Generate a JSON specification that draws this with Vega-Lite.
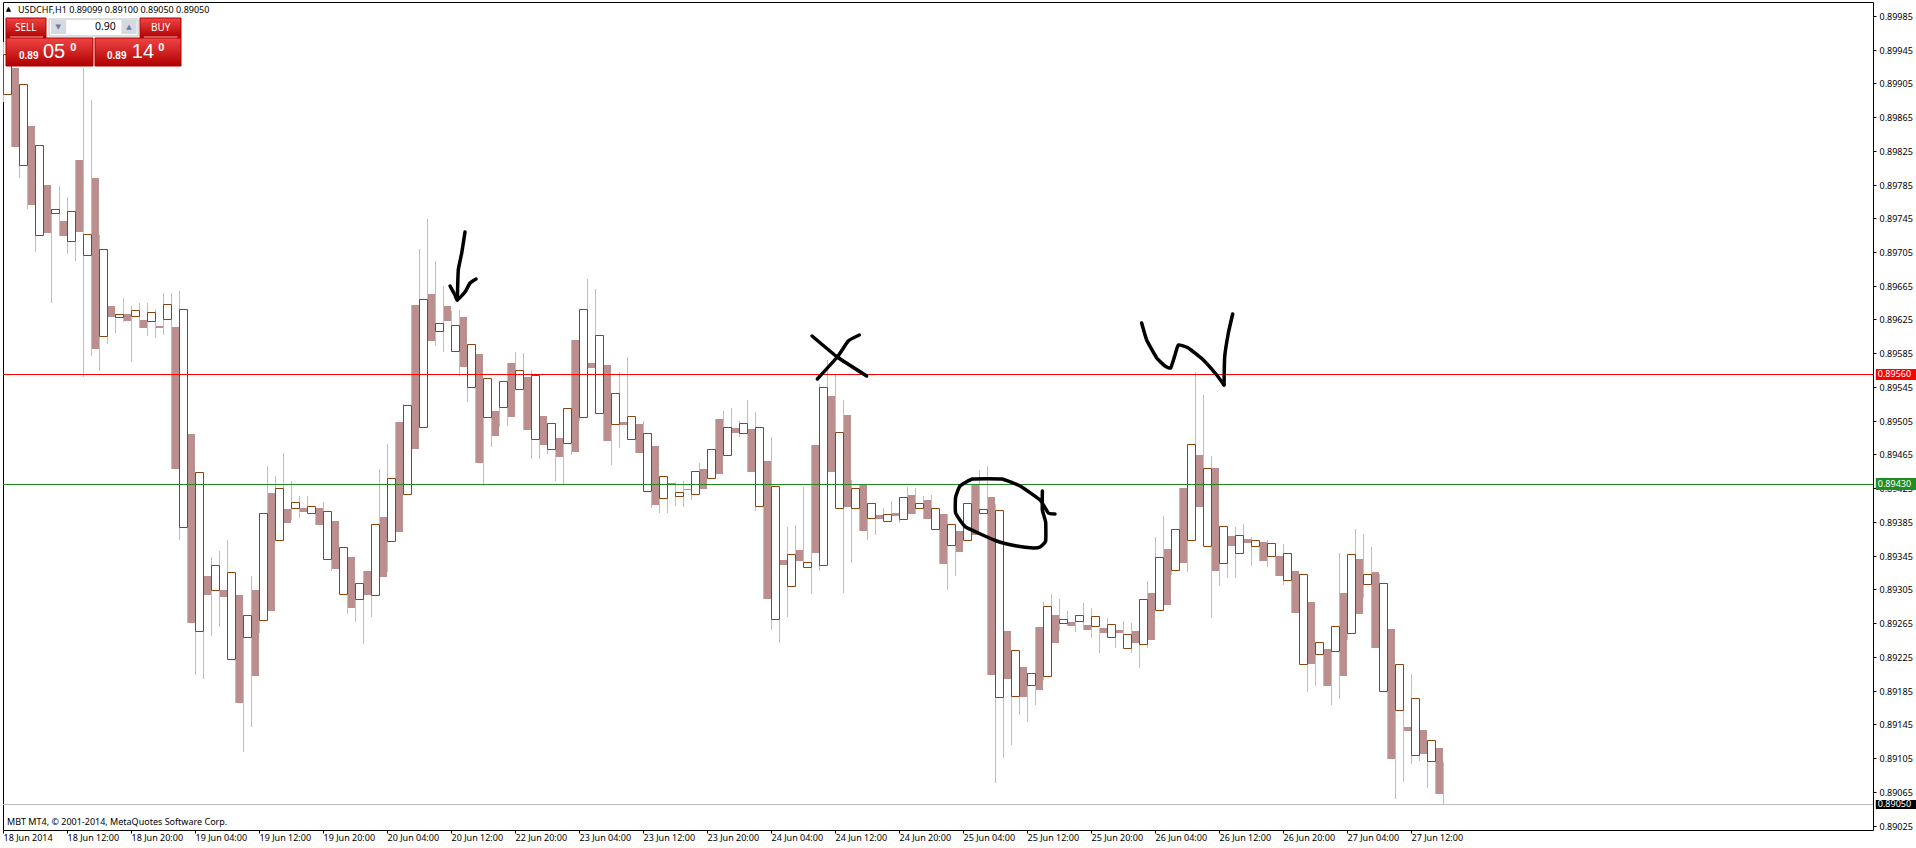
{
"$schema":"https://vega.github.io/schema/vega-lite/v6.json",
"autosize":"none","width":1870,"height":828,
"padding":{"left":3,"top":2,"right":43,"bottom":18},
"background":"#ffffff",
"config":{"view":{"stroke":"#000000","strokeWidth":1},"font":"Noto Sans","axis":{"labelOverlap":false,"labelSeparation":0}},
"datasets":{
"bars":[
{"i":0,"open":0.89892,"high":0.89954,"low":0.89883,"close":0.8994},
{"i":1,"open":0.89923,"high":0.89935,"low":0.8983,"close":0.8983},
{"i":2,"open":0.89808,"high":0.89904,"low":0.89793,"close":0.89904},
{"i":3,"open":0.89854,"high":0.89854,"low":0.89756,"close":0.89761},
{"i":4,"open":0.89725,"high":0.89832,"low":0.89705,"close":0.89832},
{"i":5,"open":0.89785,"high":0.89785,"low":0.89728,"close":0.89728},
{"i":6,"open":0.89751,"high":0.89756,"low":0.89644,"close":0.89756},
{"i":7,"open":0.89742,"high":0.89783,"low":0.89724,"close":0.89724},
{"i":8,"open":0.89718,"high":0.8977,"low":0.89703,"close":0.89754},
{"i":9,"open":0.89814,"high":0.89814,"low":0.89694,"close":0.89729},
{"i":10,"open":0.89702,"high":0.89923,"low":0.89557,"close":0.89726},
{"i":11,"open":0.89793,"high":0.89885,"low":0.89582,"close":0.8959},
{"i":12,"open":0.89605,"high":0.89725,"low":0.89564,"close":0.89708},
{"i":13,"open":0.89641,"high":0.89641,"low":0.89596,"close":0.89628},
{"i":14,"open":0.89628,"high":0.89631,"low":0.89609,"close":0.89631},
{"i":15,"open":0.89632,"high":0.89651,"low":0.89622,"close":0.89623},
{"i":16,"open":0.89629,"high":0.89641,"low":0.89574,"close":0.89636},
{"i":17,"open":0.89624,"high":0.89644,"low":0.89615,"close":0.89615},
{"i":18,"open":0.89623,"high":0.89645,"low":0.89605,"close":0.89634},
{"i":19,"open":0.89617,"high":0.89638,"low":0.89603,"close":0.89615},
{"i":20,"open":0.89625,"high":0.89656,"low":0.89606,"close":0.89643},
{"i":21,"open":0.89616,"high":0.89656,"low":0.89448,"close":0.89448},
{"i":22,"open":0.89379,"high":0.89659,"low":0.89363,"close":0.89638},
{"i":23,"open":0.89489,"high":0.89489,"low":0.89265,"close":0.89265},
{"i":24,"open":0.89256,"high":0.89444,"low":0.89204,"close":0.89444},
{"i":25,"open":0.89321,"high":0.89321,"low":0.89199,"close":0.89298},
{"i":26,"open":0.89304,"high":0.89343,"low":0.8925,"close":0.89334},
{"i":27,"open":0.89304,"high":0.89351,"low":0.8926,"close":0.89296},
{"i":28,"open":0.89222,"high":0.89364,"low":0.89222,"close":0.89326},
{"i":29,"open":0.89298,"high":0.89298,"low":0.8917,"close":0.8917},
{"i":30,"open":0.89248,"high":0.89275,"low":0.89112,"close":0.89275},
{"i":31,"open":0.89304,"high":0.89321,"low":0.89142,"close":0.89202},
{"i":32,"open":0.89269,"high":0.89396,"low":0.89253,"close":0.89396},
{"i":33,"open":0.89419,"high":0.89451,"low":0.89279,"close":0.89279},
{"i":34,"open":0.89364,"high":0.89439,"low":0.89364,"close":0.89425},
{"i":35,"open":0.894,"high":0.89467,"low":0.89384,"close":0.89384},
{"i":36,"open":0.89402,"high":0.89434,"low":0.89387,"close":0.89409},
{"i":37,"open":0.89402,"high":0.89416,"low":0.8939,"close":0.89397},
{"i":38,"open":0.89395,"high":0.89416,"low":0.89395,"close":0.89404},
{"i":39,"open":0.89402,"high":0.89402,"low":0.89381,"close":0.89381},
{"i":40,"open":0.89341,"high":0.89409,"low":0.89341,"close":0.89398},
{"i":41,"open":0.89386,"high":0.89386,"low":0.89327,"close":0.89329},
{"i":42,"open":0.89299,"high":0.89355,"low":0.89299,"close":0.89355},
{"i":43,"open":0.89343,"high":0.89343,"low":0.89276,"close":0.89283},
{"i":44,"open":0.89293,"high":0.89313,"low":0.89266,"close":0.89313},
{"i":45,"open":0.89327,"high":0.89327,"low":0.8924,"close":0.89298},
{"i":46,"open":0.89298,"high":0.89383,"low":0.89272,"close":0.89383},
{"i":47,"open":0.89391,"high":0.89448,"low":0.8932,"close":0.8932},
{"i":48,"open":0.89362,"high":0.89477,"low":0.89326,"close":0.89437},
{"i":49,"open":0.89503,"high":0.89503,"low":0.89373,"close":0.89373},
{"i":50,"open":0.89418,"high":0.89525,"low":0.89418,"close":0.89523},
{"i":51,"open":0.89642,"high":0.89642,"low":0.89472,"close":0.89472},
{"i":52,"open":0.89497,"high":0.89709,"low":0.89497,"close":0.89649},
{"i":53,"open":0.89655,"high":0.89744,"low":0.89593,"close":0.896},
{"i":54,"open":0.89611,"high":0.89694,"low":0.89593,"close":0.89621},
{"i":55,"open":0.89641,"high":0.89665,"low":0.89586,"close":0.89623},
{"i":56,"open":0.89588,"high":0.89635,"low":0.89588,"close":0.89618},
{"i":57,"open":0.89628,"high":0.89636,"low":0.89558,"close":0.89569},
{"i":58,"open":0.89545,"high":0.89596,"low":0.89527,"close":0.89596},
{"i":59,"open":0.89584,"high":0.89584,"low":0.89455,"close":0.89455},
{"i":60,"open":0.89509,"high":0.89556,"low":0.89427,"close":0.89556},
{"i":61,"open":0.89517,"high":0.89517,"low":0.89474,"close":0.89487},
{"i":62,"open":0.89521,"high":0.89552,"low":0.89498,"close":0.89552},
{"i":63,"open":0.89573,"high":0.89573,"low":0.89499,"close":0.89509},
{"i":64,"open":0.89543,"high":0.89587,"low":0.89543,"close":0.89565},
{"i":65,"open":0.89557,"high":0.89585,"low":0.89494,"close":0.89494},
{"i":66,"open":0.89483,"high":0.89565,"low":0.8946,"close":0.89559},
{"i":67,"open":0.89511,"high":0.89511,"low":0.8946,"close":0.89476},
{"i":68,"open":0.89471,"high":0.89502,"low":0.89465,"close":0.89502},
{"i":69,"open":0.89485,"high":0.89485,"low":0.89433,"close":0.89462},
{"i":70,"open":0.89479,"high":0.8952,"low":0.8943,"close":0.8952},
{"i":71,"open":0.89601,"high":0.89601,"low":0.89464,"close":0.89468},
{"i":72,"open":0.89509,"high":0.89638,"low":0.89505,"close":0.89638},
{"i":73,"open":0.89573,"high":0.89673,"low":0.89568,"close":0.89568},
{"i":74,"open":0.89514,"high":0.89661,"low":0.89514,"close":0.89606},
{"i":75,"open":0.89571,"high":0.89571,"low":0.89481,"close":0.89481},
{"i":76,"open":0.89501,"high":0.89538,"low":0.89452,"close":0.89538},
{"i":77,"open":0.89504,"high":0.89563,"low":0.89473,"close":0.895},
{"i":78,"open":0.89483,"high":0.89581,"low":0.89483,"close":0.8951},
{"i":79,"open":0.89501,"high":0.89501,"low":0.89467,"close":0.89467},
{"i":80,"open":0.89422,"high":0.89505,"low":0.89422,"close":0.8949},
{"i":81,"open":0.89475,"high":0.89475,"low":0.89402,"close":0.89405},
{"i":82,"open":0.89413,"high":0.89439,"low":0.89396,"close":0.89439},
{"i":83,"open":0.89431,"high":0.89431,"low":0.89396,"close":0.89429},
{"i":84,"open":0.89416,"high":0.89432,"low":0.89404,"close":0.8942},
{"i":85,"open":0.89424,"high":0.89434,"low":0.89403,"close":0.89423},
{"i":86,"open":0.89418,"high":0.89445,"low":0.89411,"close":0.89445},
{"i":87,"open":0.89448,"high":0.89455,"low":0.89424,"close":0.89424},
{"i":88,"open":0.89437,"high":0.89472,"low":0.89437,"close":0.89472},
{"i":89,"open":0.89507,"high":0.89507,"low":0.89442,"close":0.89442},
{"i":90,"open":0.89464,"high":0.89516,"low":0.89464,"close":0.89498},
{"i":91,"open":0.89496,"high":0.8952,"low":0.8949,"close":0.8949},
{"i":92,"open":0.8949,"high":0.89505,"low":0.89486,"close":0.89502},
{"i":93,"open":0.89495,"high":0.8953,"low":0.89444,"close":0.89444},
{"i":94,"open":0.89404,"high":0.89515,"low":0.89398,"close":0.89498},
{"i":95,"open":0.89457,"high":0.89457,"low":0.89294,"close":0.89294},
{"i":96,"open":0.8927,"high":0.89486,"low":0.89257,"close":0.89428},
{"i":97,"open":0.8934,"high":0.8934,"low":0.89241,"close":0.89334},
{"i":98,"open":0.89309,"high":0.89379,"low":0.89272,"close":0.89347},
{"i":99,"open":0.89352,"high":0.89381,"low":0.89339,"close":0.89339},
{"i":100,"open":0.89332,"high":0.89426,"low":0.89332,"close":0.89337},
{"i":101,"open":0.89476,"high":0.89476,"low":0.893,"close":0.89348},
{"i":102,"open":0.89334,"high":0.89548,"low":0.89327,"close":0.89545},
{"i":103,"open":0.89534,"high":0.89577,"low":0.89444,"close":0.89444},
{"i":104,"open":0.89402,"high":0.8956,"low":0.89402,"close":0.89491},
{"i":105,"open":0.89512,"high":0.8953,"low":0.89301,"close":0.89403},
{"i":106,"open":0.89401,"high":0.89435,"low":0.89336,"close":0.89425},
{"i":107,"open":0.89429,"high":0.89429,"low":0.89374,"close":0.89374},
{"i":108,"open":0.8939,"high":0.89407,"low":0.89363,"close":0.89407},
{"i":109,"open":0.89393,"high":0.89407,"low":0.8937,"close":0.89389},
{"i":110,"open":0.89386,"high":0.89402,"low":0.89386,"close":0.89394},
{"i":111,"open":0.89396,"high":0.8941,"low":0.89392,"close":0.89392},
{"i":112,"open":0.89388,"high":0.89414,"low":0.89384,"close":0.89414},
{"i":113,"open":0.89417,"high":0.89426,"low":0.89394,"close":0.89394},
{"i":114,"open":0.89401,"high":0.89425,"low":0.89394,"close":0.89407},
{"i":115,"open":0.89411,"high":0.89416,"low":0.89389,"close":0.89389},
{"i":116,"open":0.89377,"high":0.89417,"low":0.89377,"close":0.89402},
{"i":117,"open":0.89394,"high":0.89394,"low":0.89335,"close":0.89335},
{"i":118,"open":0.89358,"high":0.89394,"low":0.89304,"close":0.89383},
{"i":119,"open":0.89374,"high":0.89374,"low":0.89321,"close":0.89349},
{"i":120,"open":0.89364,"high":0.89407,"low":0.89364,"close":0.89407},
{"i":121,"open":0.8943,"high":0.8943,"low":0.89369,"close":0.89369},
{"i":122,"open":0.89396,"high":0.89447,"low":0.89396,"close":0.894},
{"i":123,"open":0.89415,"high":0.89451,"low":0.89204,"close":0.89204},
{"i":124,"open":0.89177,"high":0.89406,"low":0.89075,"close":0.89399},
{"i":125,"open":0.89256,"high":0.89256,"low":0.89105,"close":0.89199},
{"i":126,"open":0.89179,"high":0.89233,"low":0.8912,"close":0.89233},
{"i":127,"open":0.89213,"high":0.89213,"low":0.89156,"close":0.89177},
{"i":128,"open":0.89192,"high":0.89206,"low":0.89148,"close":0.89206},
{"i":129,"open":0.8926,"high":0.8926,"low":0.89168,"close":0.89186},
{"i":130,"open":0.89202,"high":0.8929,"low":0.89197,"close":0.89285},
{"i":131,"open":0.89275,"high":0.893,"low":0.89241,"close":0.89241},
{"i":132,"open":0.89265,"high":0.89294,"low":0.89256,"close":0.8927},
{"i":133,"open":0.89266,"high":0.89279,"low":0.89262,"close":0.89262},
{"i":134,"open":0.89268,"high":0.89275,"low":0.89254,"close":0.89275},
{"i":135,"open":0.89263,"high":0.89289,"low":0.89257,"close":0.89257},
{"i":136,"open":0.89261,"high":0.89283,"low":0.89247,"close":0.89274},
{"i":137,"open":0.89259,"high":0.89259,"low":0.89229,"close":0.89253},
{"i":138,"open":0.89248,"high":0.89271,"low":0.89248,"close":0.89264},
{"i":139,"open":0.89257,"high":0.89264,"low":0.89236,"close":0.89253},
{"i":140,"open":0.89236,"high":0.89268,"low":0.89236,"close":0.89252},
{"i":141,"open":0.89256,"high":0.89265,"low":0.89229,"close":0.89241},
{"i":142,"open":0.8924,"high":0.89294,"low":0.89212,"close":0.89294},
{"i":143,"open":0.89301,"high":0.89315,"low":0.89236,"close":0.89245},
{"i":144,"open":0.89281,"high":0.89367,"low":0.89281,"close":0.89343},
{"i":145,"open":0.89353,"high":0.89392,"low":0.89287,"close":0.89287},
{"i":146,"open":0.89328,"high":0.89376,"low":0.89322,"close":0.89376},
{"i":147,"open":0.89425,"high":0.89425,"low":0.89336,"close":0.89336},
{"i":148,"open":0.89364,"high":0.89477,"low":0.89326,"close":0.89477},
{"i":149,"open":0.89464,"high":0.89563,"low":0.89403,"close":0.89403},
{"i":150,"open":0.89356,"high":0.89535,"low":0.89356,"close":0.89449},
{"i":151,"open":0.89449,"high":0.89463,"low":0.89271,"close":0.89327},
{"i":152,"open":0.89336,"high":0.8938,"low":0.89309,"close":0.8938},
{"i":153,"open":0.89368,"high":0.8938,"low":0.89319,"close":0.89357},
{"i":154,"open":0.89348,"high":0.89379,"low":0.89319,"close":0.89369},
{"i":155,"open":0.89365,"high":0.89383,"low":0.89348,"close":0.8936},
{"i":156,"open":0.89357,"high":0.89367,"low":0.89333,"close":0.89363},
{"i":157,"open":0.89361,"high":0.89361,"low":0.89339,"close":0.89339},
{"i":158,"open":0.89344,"high":0.89364,"low":0.89331,"close":0.8936},
{"i":159,"open":0.89345,"high":0.89345,"low":0.89321,"close":0.89321},
{"i":160,"open":0.89316,"high":0.89359,"low":0.8931,"close":0.89348},
{"i":161,"open":0.89327,"high":0.89327,"low":0.89277,"close":0.89277},
{"i":162,"open":0.89217,"high":0.89323,"low":0.89217,"close":0.89323},
{"i":163,"open":0.8929,"high":0.8929,"low":0.89183,"close":0.89217},
{"i":164,"open":0.89228,"high":0.89243,"low":0.8919,"close":0.89243},
{"i":165,"open":0.89234,"high":0.89234,"low":0.89191,"close":0.89191},
{"i":166,"open":0.89232,"high":0.89261,"low":0.89168,"close":0.89261},
{"i":167,"open":0.89301,"high":0.89348,"low":0.89175,"close":0.89202},
{"i":168,"open":0.89253,"high":0.89347,"low":0.89245,"close":0.89347},
{"i":169,"open":0.89341,"high":0.89377,"low":0.89276,"close":0.89276},
{"i":170,"open":0.89311,"high":0.89371,"low":0.89295,"close":0.89323},
{"i":171,"open":0.89326,"high":0.89355,"low":0.89235,"close":0.89235},
{"i":172,"open":0.89184,"high":0.89323,"low":0.89184,"close":0.89313},
{"i":173,"open":0.89258,"high":0.89258,"low":0.89104,"close":0.89104},
{"i":174,"open":0.89162,"high":0.89216,"low":0.89057,"close":0.89216},
{"i":175,"open":0.89142,"high":0.89162,"low":0.89077,"close":0.89137},
{"i":176,"open":0.89109,"high":0.89205,"low":0.89098,"close":0.89176},
{"i":177,"open":0.89138,"high":0.89138,"low":0.89102,"close":0.8911},
{"i":178,"open":0.89101,"high":0.89126,"low":0.8907,"close":0.89126},
{"i":179,"open":0.89117,"high":0.89117,"low":0.89062,"close":0.89062},
{"i":180,"open":null,"high":0.891,"low":0.8905,"close":null}
],
"levels":[
{"level":"resistance","price":0.8956,"hi":0.895666,"lo":0.895534},
{"level":"support","price":0.8943,"hi":0.894366,"lo":0.894234},
{"level":"bid","price":0.8905,"hi":0.890558,"lo":0.890442}
],
"ink":[
{"stroke":"arrow-shaft","n":0,"i":57.75,"price":0.89729},
{"stroke":"arrow-shaft","n":1,"i":57.34,"price":0.89704},
{"stroke":"arrow-shaft","n":2,"i":56.91,"price":0.89684},
{"stroke":"arrow-shaft","n":3,"i":56.79,"price":0.89648},
{"stroke":"arrow-head","n":0,"i":55.88,"price":0.89665},
{"stroke":"arrow-head","n":1,"i":56.5,"price":0.89654},
{"stroke":"arrow-head","n":2,"i":56.79,"price":0.89648},
{"stroke":"arrow-head","n":3,"i":57.75,"price":0.89658},
{"stroke":"arrow-head","n":4,"i":58.38,"price":0.89668},
{"stroke":"arrow-head","n":5,"i":59.13,"price":0.89673},
{"stroke":"x-1","n":0,"i":101.13,"price":0.89605},
{"stroke":"x-1","n":1,"i":104.29,"price":0.89581},
{"stroke":"x-1","n":2,"i":107.96,"price":0.89558},
{"stroke":"x-2","n":0,"i":107.04,"price":0.89607},
{"stroke":"x-2","n":1,"i":105.66,"price":0.89599},
{"stroke":"x-2","n":2,"i":104.29,"price":0.89581},
{"stroke":"x-2","n":3,"i":101.79,"price":0.89554},
{"stroke":"circle","n":0,"i":131.5,"price":0.89394},
{"stroke":"circle","n":1,"i":130.67,"price":0.89396},
{"stroke":"circle","n":2,"i":129.63,"price":0.89411},
{"stroke":"circle","n":3,"i":127.13,"price":0.89427},
{"stroke":"circle","n":4,"i":124.83,"price":0.89436},
{"stroke":"circle","n":5,"i":121.21,"price":0.89436},
{"stroke":"circle","n":6,"i":119.63,"price":0.89428},
{"stroke":"circle","n":7,"i":119.08,"price":0.89415},
{"stroke":"circle","n":8,"i":119.08,"price":0.89395},
{"stroke":"circle","n":9,"i":120.33,"price":0.89379},
{"stroke":"circle","n":10,"i":124.21,"price":0.89362},
{"stroke":"circle","n":11,"i":126.71,"price":0.89357},
{"stroke":"circle","n":12,"i":128.79,"price":0.89354},
{"stroke":"circle","n":13,"i":129.63,"price":0.89355},
{"stroke":"circle","n":14,"i":130.33,"price":0.89362},
{"stroke":"circle","n":15,"i":130.33,"price":0.89385},
{"stroke":"circle","n":16,"i":129.92,"price":0.89399},
{"stroke":"circle","n":17,"i":129.92,"price":0.89422},
{"stroke":"w","n":0,"i":142.33,"price":0.89621},
{"stroke":"w","n":1,"i":142.96,"price":0.89601},
{"stroke":"w","n":2,"i":144.21,"price":0.89579},
{"stroke":"w","n":3,"i":145.25,"price":0.8957},
{"stroke":"w","n":4,"i":145.96,"price":0.89568},
{"stroke":"w","n":5,"i":146.5,"price":0.89583},
{"stroke":"w","n":6,"i":146.91,"price":0.89595},
{"stroke":"w","n":7,"i":148.16,"price":0.89591},
{"stroke":"w","n":8,"i":150.04,"price":0.89577},
{"stroke":"w","n":9,"i":151.71,"price":0.89559},
{"stroke":"w","n":10,"i":152.63,"price":0.89547},
{"stroke":"w2","n":0,"i":152.63,"price":0.89547},
{"stroke":"w2","n":1,"i":152.71,"price":0.89581},
{"stroke":"w2","n":2,"i":153.17,"price":0.89609},
{"stroke":"w2","n":3,"i":153.71,"price":0.89632}
],
"buttons":[
{"name":"sell-head","i":0.375,"i2":5.375,"p":0.89983,"p2":0.89959},
{"name":"buy-head","i":17.13,"i2":22.25,"p":0.89983,"p2":0.89959},
{"name":"sell-price","i":0.375,"i2":11.25,"p":0.89959,"p2":0.89926},
{"name":"buy-price","i":11.5,"i2":22.25,"p":0.89959,"p2":0.89926}
],
"underlines":[
{"i":0.9,"i2":5,"p":0.8996},
{"i":17.6,"i2":21.8,"p":0.8996}
],
"spinner":[{"i":5.75,"i2":16.88,"p":0.89981,"p2":0.89961}],
"spinbtn":[
{"i":6,"i2":7.9,"p":0.8998,"p2":0.89963},
{"i":14.8,"i2":16.7,"p":0.8998,"p2":0.89963}
],
"small":[
{"i":1.875,"price":0.89992,"text":"USDCHF,H1  0.89099 0.89100 0.89050 0.89050"},
{"i":0.5,"price":0.89029,"text":"MBT MT4, © 2001-2014, MetaQuotes Software Corp."}
],
"btnlabels":[
{"i":1.5,"price":0.89971,"text":"SELL"},
{"i":18.5,"price":0.89971,"text":"BUY"}
],
"lot":[{"i":11.5,"price":0.89972,"text":"0.90"}],
"arrows":[
{"i":0.35,"price":0.89993,"text":"▲","tone":"black"},
{"i":6.55,"price":0.89972,"text":"▼","tone":"blue"},
{"i":15.4,"price":0.89972,"text":"▲","tone":"blue"}
],
"pricesmall":[
{"i":2,"price":0.89937,"text":"0.89"},
{"i":13,"price":0.89937,"text":"0.89"}
],
"pricebig":[
{"i":5,"price":0.89942,"text":"05"},
{"i":16.1,"price":0.89942,"text":"14"}
],
"pricesup":[
{"i":8.4,"price":0.89947,"text":"0"},
{"i":19.4,"price":0.89947,"text":"0"}
]
},
"layer":[
{"data":{"name":"bars"},"mark":{"type":"rule","color":"#BEBEBE","strokeWidth":1,"xOffset":0.5},
 "encoding":{
  "x":{"field":"i","type":"quantitative","title":null,"scale":{"domain":[0,233.75],"nice":false,"zero":false,"padding":0},
   "axis":{"title":null,"grid":false,"domain":false,"orient":"bottom","tickCount":40,"values":[0,8,16,24,32,40,48,56,64,72,80,88,96,104,112,120,128,136,144,152,160,168,176],
    "labelExpr":"['18 Jun 2014','18 Jun 12:00','18 Jun 20:00','19 Jun 04:00','19 Jun 12:00','19 Jun 20:00','20 Jun 04:00','20 Jun 12:00','22 Jun 20:00','23 Jun 04:00','23 Jun 12:00','23 Jun 20:00','24 Jun 04:00','24 Jun 12:00','24 Jun 20:00','25 Jun 04:00','25 Jun 12:00','25 Jun 20:00','26 Jun 04:00','26 Jun 12:00','26 Jun 20:00','27 Jun 04:00','27 Jun 12:00'][datum.value/8]",
    "labelAlign":"left","labelBaseline":"middle","labelPadding":4,"labelFont":"Noto Sans","labelFontSize":9,"labelColor":"#000000","labelOverlap":false,"labelBound":false,"labelFlush":false,"tickColor":"#000000","tickSize":3}},
  "y":{"field":"low","type":"quantitative","title":null,"scale":{"domain":[0.890197,0.900014],"nice":false,"zero":false,"padding":0,"round":true},
   "axis":{"title":null,"grid":false,"domain":false,"orient":"right","tickCount":40,"values":[0.89025,0.89065,0.89105,0.89145,0.89185,0.89225,0.89265,0.89305,0.89345,0.89385,0.89425,0.89465,0.89505,0.89545,0.89585,0.89625,0.89665,0.89705,0.89745,0.89785,0.89825,0.89865,0.89905,0.89945,0.89985],
    "format":".5f","labelFont":"Noto Sans","labelFontSize":9,"labelColor":"#000000","labelPadding":3,"labelOverlap":false,"labelBound":false,"labelFlush":false,"tickColor":"#000000","tickSize":3}},
  "y2":{"field":"high"}}},
{"data":{"name":"bars"},"transform":[{"filter":"datum.close<datum.open"}],
 "mark":{"type":"bar","width":7,"xOffset":4.5,"color":"#BC8F8F"},
 "encoding":{"x":{"field":"i","type":"quantitative","title":null},"y":{"field":"open","type":"quantitative","title":null},"y2":{"field":"close"}}},
{"data":{"name":"bars"},"transform":[{"filter":"datum.close>datum.open"}],
 "mark":{"type":"bar","width":8,"xOffset":4.5,"yOffset":0.5,"y2Offset":0.5,"fill":"#ffffff","stroke":"#8B4513","strokeWidth":1},
 "encoding":{"x":{"field":"i","type":"quantitative","title":null},"y":{"field":"open","type":"quantitative","title":null},"y2":{"field":"close"}}},
{"data":{"name":"levels"},"transform":[{"filter":"datum.level=='resistance'"}],"mark":{"type":"rule","color":"#FF0000","yOffset":0.5},"encoding":{"y":{"field":"price","type":"quantitative","title":null}}},
{"data":{"name":"levels"},"transform":[{"filter":"datum.level=='support'"}],"mark":{"type":"rule","color":"#228B22","yOffset":0.5},"encoding":{"y":{"field":"price","type":"quantitative","title":null}}},
{"data":{"name":"levels"},"transform":[{"filter":"datum.level=='bid'"}],"mark":{"type":"rule","color":"#BEBEBE","yOffset":0.5},"encoding":{"y":{"field":"price","type":"quantitative","title":null}}},
{"data":{"name":"levels"},"mark":{"type":"rect"},
 "encoding":{"x":{"datum":234.1,"title":null},"x2":{"datum":239.3},"y":{"field":"hi","type":"quantitative","title":null},"y2":{"field":"lo"},
  "color":{"field":"level","type":"nominal","legend":null,"scale":{"domain":["resistance","support","bid"],"range":["#FF0000","#228B22","#000000"]}}}},
{"data":{"name":"levels"},"mark":{"type":"text","color":"#ffffff","align":"left","baseline":"middle","font":"Noto Sans","fontSize":9,"dx":2},
 "encoding":{"x":{"datum":234.1,"title":null},"y":{"field":"price","type":"quantitative","title":null},"text":{"field":"price","format":".5f"}}},
{"data":{"name":"ink"},"mark":{"type":"line","color":"#000000","strokeWidth":3.5,"strokeCap":"round","strokeJoin":"round","interpolate":"cardinal","tension":0.6},
 "encoding":{"x":{"field":"i","type":"quantitative","title":null},"y":{"field":"price","type":"quantitative","title":null},"detail":{"field":"stroke"},"order":{"field":"n"}}},
{"data":{"name":"spinner"},"mark":{"type":"rect","fill":"#ffffff","stroke":"#BDBDBD","strokeWidth":1},
 "encoding":{"x":{"field":"i","type":"quantitative","title":null},"x2":{"field":"i2"},"y":{"field":"p","type":"quantitative","title":null},"y2":{"field":"p2"}}},
{"data":{"name":"spinbtn"},"mark":{"type":"rect","fill":"#D6D9DF"},
 "encoding":{"x":{"field":"i","type":"quantitative","title":null},"x2":{"field":"i2"},"y":{"field":"p","type":"quantitative","title":null},"y2":{"field":"p2"}}},
{"data":{"name":"buttons"},"mark":{"type":"rect","stroke":"#B00000","strokeWidth":1,"color":{"gradient":"linear","x1":0,"y1":0,"x2":0,"y2":1,"stops":[{"offset":0,"color":"#F04545"},{"offset":1,"color":"#B00000"}]}},
 "encoding":{"x":{"field":"i","type":"quantitative","title":null},"x2":{"field":"i2"},"y":{"field":"p","type":"quantitative","title":null},"y2":{"field":"p2"}}},
{"data":{"name":"underlines"},"mark":{"type":"rule","color":"#F3B0B0","strokeWidth":1},
 "encoding":{"x":{"field":"i","type":"quantitative","title":null},"x2":{"field":"i2"},"y":{"field":"p","type":"quantitative","title":null}}},
{"data":{"name":"small"},"mark":{"type":"text","align":"left","baseline":"middle","font":"Noto Sans","fontSize":9,"color":"#000000"},
 "encoding":{"x":{"field":"i","type":"quantitative","title":null},"y":{"field":"price","type":"quantitative","title":null},"text":{"field":"text"}}},
{"data":{"name":"btnlabels"},"mark":{"type":"text","align":"left","baseline":"middle","font":"Noto Sans","fontSize":10,"color":"#ffffff"},
 "encoding":{"x":{"field":"i","type":"quantitative","title":null},"y":{"field":"price","type":"quantitative","title":null},"text":{"field":"text"}}},
{"data":{"name":"lot"},"mark":{"type":"text","align":"left","baseline":"middle","font":"Noto Sans","fontSize":10.5,"color":"#000000"},
 "encoding":{"x":{"field":"i","type":"quantitative","title":null},"y":{"field":"price","type":"quantitative","title":null},"text":{"field":"text"}}},
{"data":{"name":"arrows"},"mark":{"type":"text","align":"left","baseline":"middle","font":"DejaVu Sans","fontSize":7},
 "encoding":{"x":{"field":"i","type":"quantitative","title":null},"y":{"field":"price","type":"quantitative","title":null},"text":{"field":"text"},
  "fill":{"field":"tone","type":"nominal","legend":null,"scale":{"domain":["black","blue"],"range":["#000000","#6A7AA8"]}}}},
{"data":{"name":"pricesmall"},"mark":{"type":"text","align":"left","baseline":"middle","font":"Liberation Sans","fontWeight":"bold","fontSize":10,"color":"#ffffff"},
 "encoding":{"x":{"field":"i","type":"quantitative","title":null},"y":{"field":"price","type":"quantitative","title":null},"text":{"field":"text"}}},
{"data":{"name":"pricebig"},"mark":{"type":"text","align":"left","baseline":"middle","font":"Liberation Sans","fontSize":20,"color":"#ffffff"},
 "encoding":{"x":{"field":"i","type":"quantitative","title":null},"y":{"field":"price","type":"quantitative","title":null},"text":{"field":"text"}}},
{"data":{"name":"pricesup"},"mark":{"type":"text","align":"left","baseline":"middle","font":"Liberation Sans","fontWeight":"bold","fontSize":11,"color":"#ffffff"},
 "encoding":{"x":{"field":"i","type":"quantitative","title":null},"y":{"field":"price","type":"quantitative","title":null},"text":{"field":"text"}}}
],
"resolve":{"scale":{"color":"independent","fill":"independent"}}
}
